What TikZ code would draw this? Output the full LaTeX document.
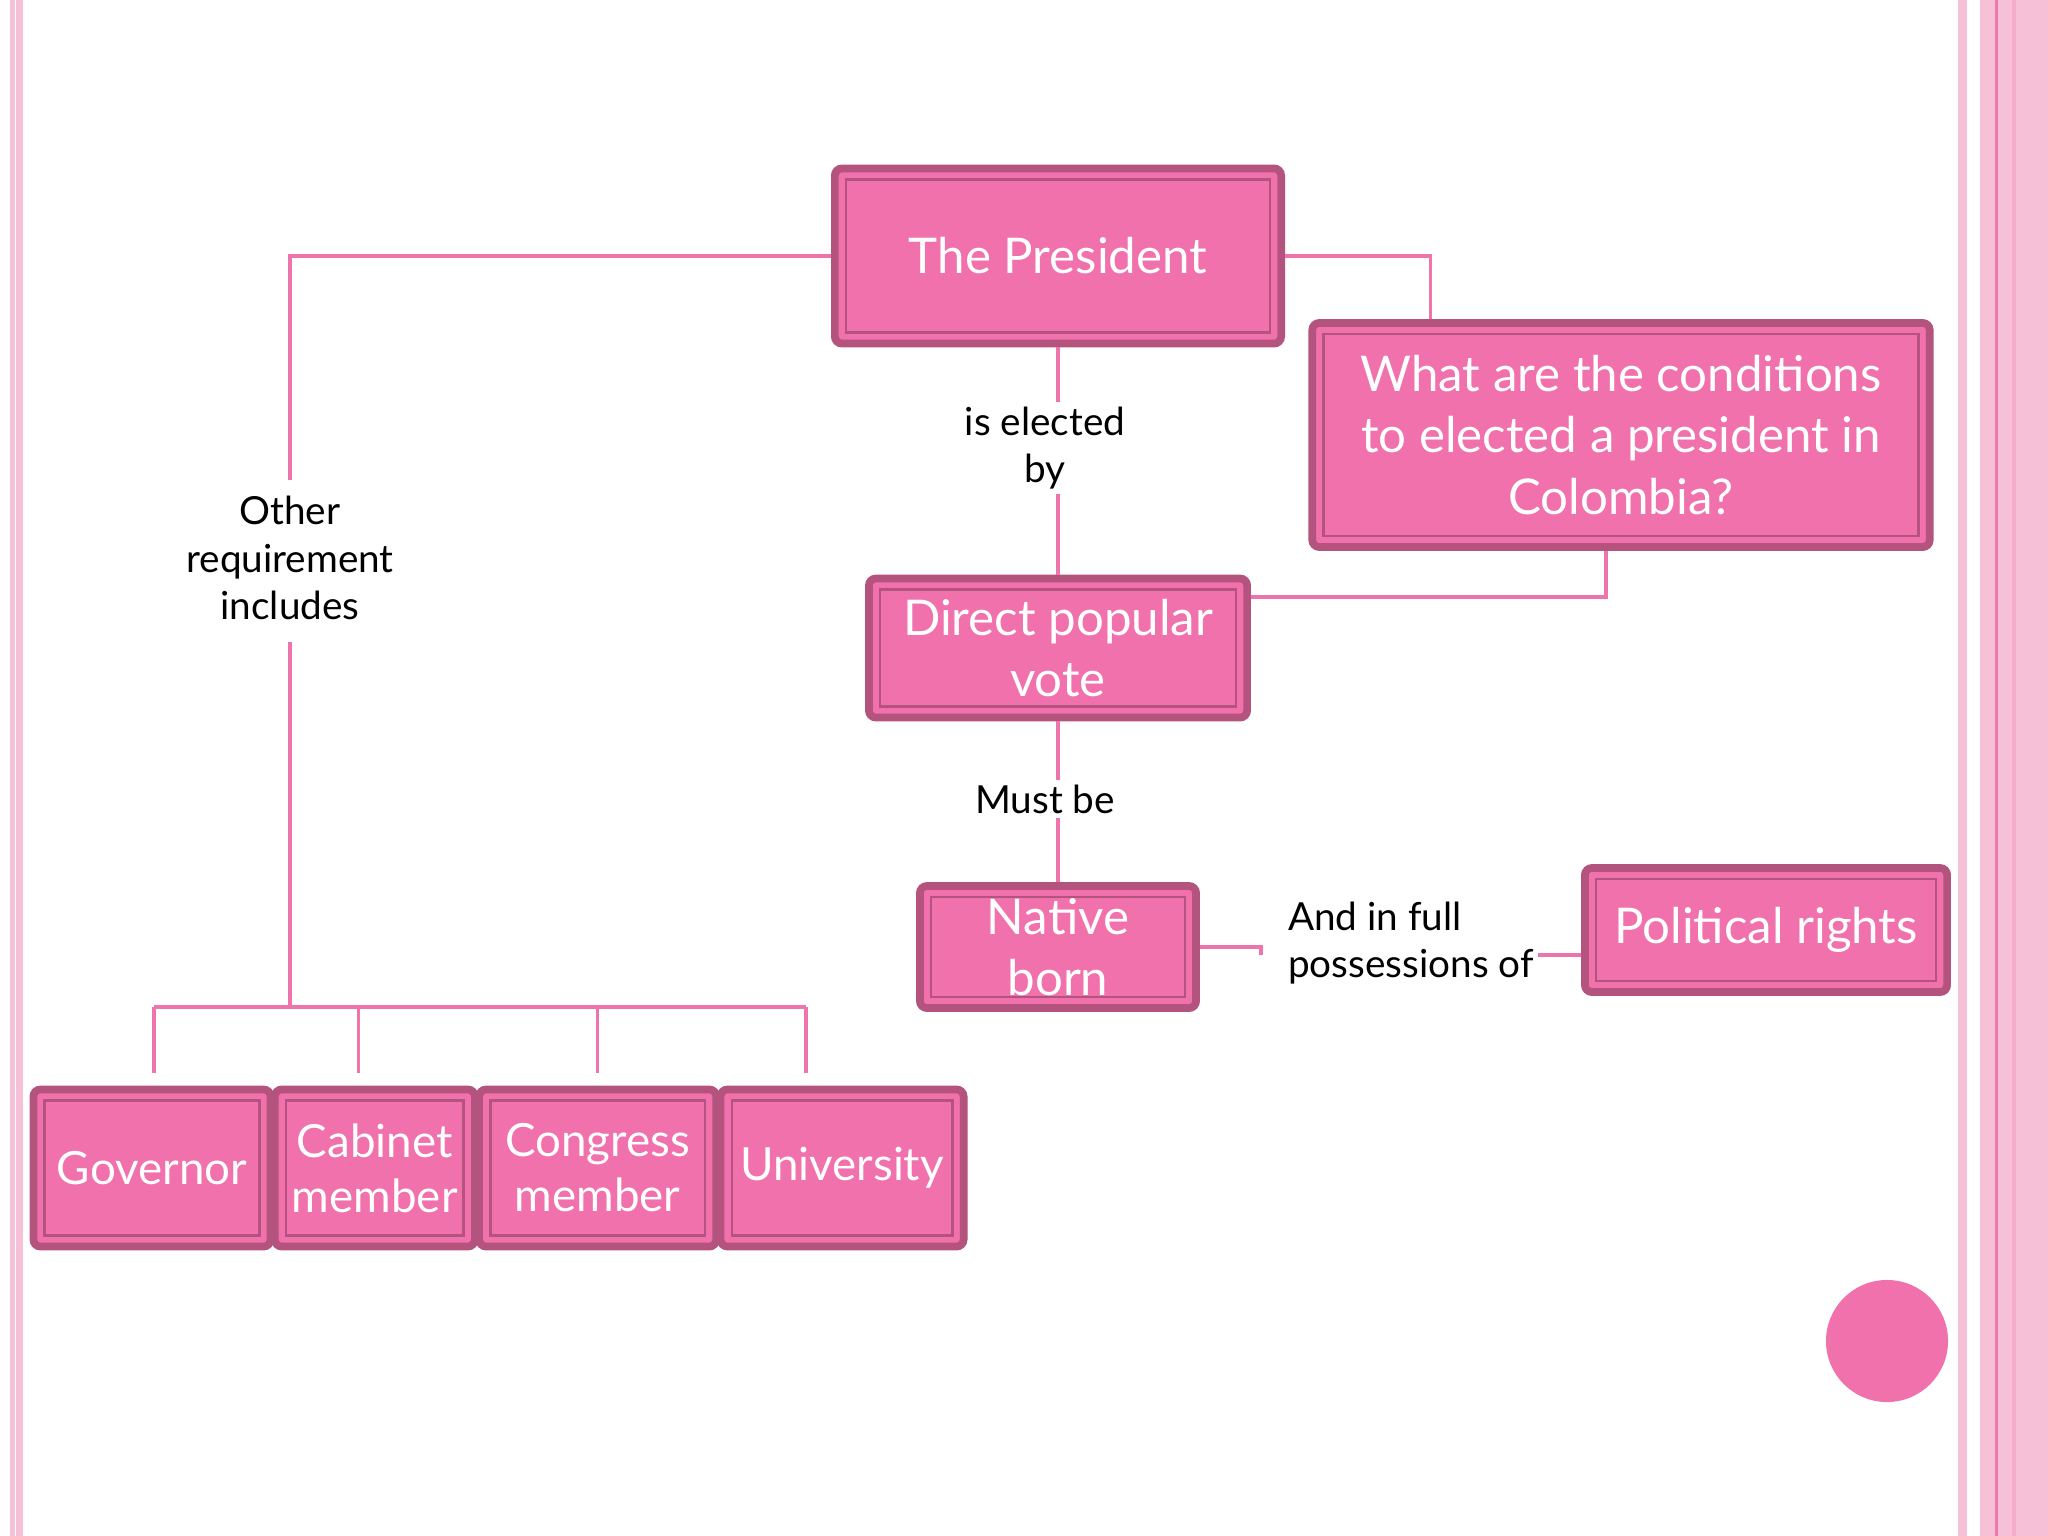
\documentclass[tikz,border=0pt]{standalone}
\usepackage{fontspec}
\setmainfont{Lato}
\usetikzlibrary{positioning}

\definecolor{boxfill}{HTML}{F071AC}
\definecolor{boxedge}{HTML}{B5537F}
\definecolor{linkpink}{HTML}{EE74AC}
\definecolor{stripe}{HTML}{F6C1D7}
\definecolor{stripedark}{HTML}{EC7AAA}

\begin{document}
\begin{tikzpicture}[
  x=0.01cm, y=-0.01cm,
  concept/.style={draw=boxedge, line width=2.2pt, fill=boxfill, rounded corners=2pt,
    align=center, text=white, inner sep=0pt, font=\fontsize{14}{17.5}\selectfont,
    path picture={\draw[boxedge, line width=0.7pt, sharp corners]
      ([shift={(3.2pt,-3.2pt)}]path picture bounding box.north west) rectangle
      ([shift={(-3.2pt,3.2pt)}]path picture bounding box.south east);}},
  row/.style={concept, minimum height=1.57cm, font=\fontsize{13}{15.6}\selectfont},
  tag/.style={align=center, font=\fontsize{11}{13.6}\selectfont, inner sep=1pt},
  link/.style={draw=linkpink, line width=0.9pt}
]
\useasboundingbox (0,0) rectangle (2048,1536);
\fill[white] (0,0) rectangle (2048,1536);

% page stripes
\fill[stripe] (10,0) rectangle (15,1536);
\fill[stripe] (16,0) rectangle (23,1536);
\fill[stripe] (1958,0) rectangle (1967,1536);
\fill[stripe] (1980,0) rectangle (2048,1536);
\fill[stripedark] (1995,0) rectangle (1998,1536);
\fill[stripe!70!stripedark] (2012,0) rectangle (2016,1536);

% concepts
\node[concept, minimum width=4.46cm, minimum height=1.75cm] (pres) at (1058,256) {The President};
\node[concept, minimum width=6.17cm, minimum height=2.24cm] (cond) at (1621,435)
  {What are the conditions\\to elected a president in\\Colombia?};
\node[concept, minimum width=3.78cm, minimum height=1.39cm] (vote) at (1058,648) {Direct popular\\vote};
\node[concept, minimum width=2.76cm, minimum height=1.22cm] (native) at (1058,947) {Native\\born};
\node[concept, minimum width=3.62cm, minimum height=1.24cm] (rights) at (1766,930) {Political rights};

\node[row, minimum width=2.37cm] (gov) at (152,1168) {Governor};
\node[row, minimum width=2.0cm, right=-1pt of gov] (cabinet) {Cabinet\\member};
\node[row, minimum width=2.37cm, right=-1pt of cabinet] (congress) {Congress\\member};
\node[row, minimum width=2.43cm, right=-1pt of congress] (univ) {University};

% linking words
\node[tag] (elect) at (1045,448) {is elected\\by};
\node[tag] (must) at (1045,799) {Must be};
\node[tag] (other) at (290,558) {Other\\requirement\\includes};
\node[tag, align=left, anchor=west] (possess) at (1284,943) {And in full\\possessions of};
\coordinate (bus) at (290,1007);

% links
\draw[link, shorten >=0.12cm] (pres.west) -| (other.north);
\draw[link, shorten <=0.18cm] (other.south) -- (bus);
\draw[link] ([xshift=0.02cm]gov.north |- bus) -- ([xshift=-0.36cm]univ.north |- bus);
\foreach \n/\dx in {gov/0.02, cabinet/-0.16, congress/0.0, univ/-0.36}
  \draw[link, shorten >=0.13cm] ([xshift=\dx cm]\n.north |- bus) -- ([xshift=\dx cm]\n.north);

\draw[link] (pres.east) -| ([xshift=-1.9cm]cond.north);
\draw[link] (pres.south) -- (pres.south |- elect.north);
\draw[link] (vote.north |- elect.south) -- (vote.north);
\draw[link] ([xshift=-0.15cm]cond.south) |- ([yshift=0.51cm]vote.east);
\draw[link] (vote.south) -- (vote.south |- must.north);
\draw[link] (native.north |- must.south) -- (native.north);
\draw[link] (native.east) -- ++(61,0) -- ++(0,8);
\draw[link] ([yshift=-0.25cm]rights.west) -- ([yshift=-0.25cm]rights.west -| possess.east);

% corner dot
\fill[boxfill] (1887,1341) circle[radius=0.61cm];
\end{tikzpicture}
\end{document}
